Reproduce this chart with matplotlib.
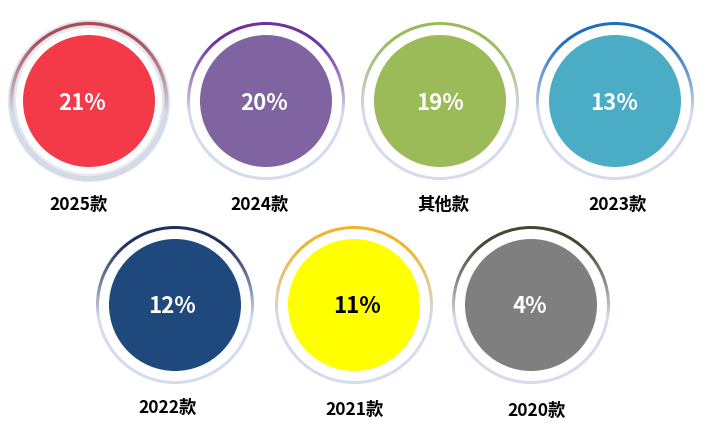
import numpy as np
import matplotlib.pyplot as plt
from matplotlib.patches import Circle, Wedge
from matplotlib.colors import to_rgb

plt.rcParams['font.family'] = ['Noto Sans CJK SC', 'DejaVu Sans']

labels = ['2025款', '2024款', '其他款', '2023款', '2022款', '2021款', '2020款']
shares = [21, 20, 19, 13, 12, 11, 4]
fill_colors = ['#f43a48', '#8064a2', '#9bbb59', '#4bacc6', '#1f497d', '#ffff00', '#7f7f7f']
ring_colors = ['#b04a50', '#7030a0', '#9bbb59', '#1f6fbf', '#1f3060', '#f0b429', '#4a4530']
text_colors = ['white', 'white', 'white', 'white', 'white', 'black', 'white']

# layout (pixel grid)
centers = [(89, 102), (266, 102), (440, 102), (615, 102),
           (175, 306), (354, 306), (531, 306)]
pct_pos = [(82, 104), (264, 104), (440, 104), (614, 104),
           (172, 307), (357, 307), (530, 307)]
label_pos = [(79, 205), (260, 205), (443, 205), (618, 205),
             (168, 408), (355, 410), (537, 411)]

fig = plt.figure(figsize=(7.1, 4.39), dpi=100)
ax = fig.add_axes([0, 0, 1, 1])
ax.set_xlim(0, 710)
ax.set_ylim(439, 0)
ax.set_aspect('equal')
ax.axis('off')

light = np.array(to_rgb('#d5dcec'))


def gradient_ring(ax, cx, cy, r, color, width):
    # vertical gradient: ring colour at top, pale blue-grey towards the bottom
    t = np.linspace(1, -1, 200)
    w = np.clip((t + 0.15) / 0.9, 0, 1) ** 0.9
    c = np.array(to_rgb(color))
    cols = w[:, None] * c + (1 - w[:, None]) * light
    img = np.repeat(cols[:, None, :], 2, axis=1)
    im = ax.imshow(img, extent=[cx - r - 2, cx + r + 2, cy + r + 2, cy - r - 2],
                   aspect='auto', interpolation='bilinear', zorder=2)
    clip = Wedge((cx, cy), r, 0, 360, width=width, transform=ax.transData)
    im.set_clip_path(clip)


for i, (cx, cy) in enumerate(centers):
    if i == 0:
        # soft bevel shadow on first ring
        ax.add_patch(Circle((cx, cy), 77, fill=False, ec='#e6e8f0', lw=6, zorder=1))
        ax.add_patch(Circle((cx, cy), 77.5, fill=False, ec='#c8cedb', lw=3, zorder=1))
    gradient_ring(ax, cx, cy, 79, ring_colors[i], 3.0)
    ax.add_patch(Circle((cx, cy), 66, color=fill_colors[i], lw=0, zorder=3))
    px, py = pct_pos[i]
    ax.text(px, py, f'{shares[i]}%', ha='center', va='center', fontsize=16,
            fontweight='bold', color=text_colors[i], zorder=4)
    lx, ly = label_pos[i]
    ax.text(lx, ly, labels[i], ha='center', va='center', fontsize=12.5,
            fontweight='bold', color='black', zorder=4)

ax.set_xlim(0, 710)
ax.set_ylim(439, 0)
fig.savefig('out.png', dpi=100)
